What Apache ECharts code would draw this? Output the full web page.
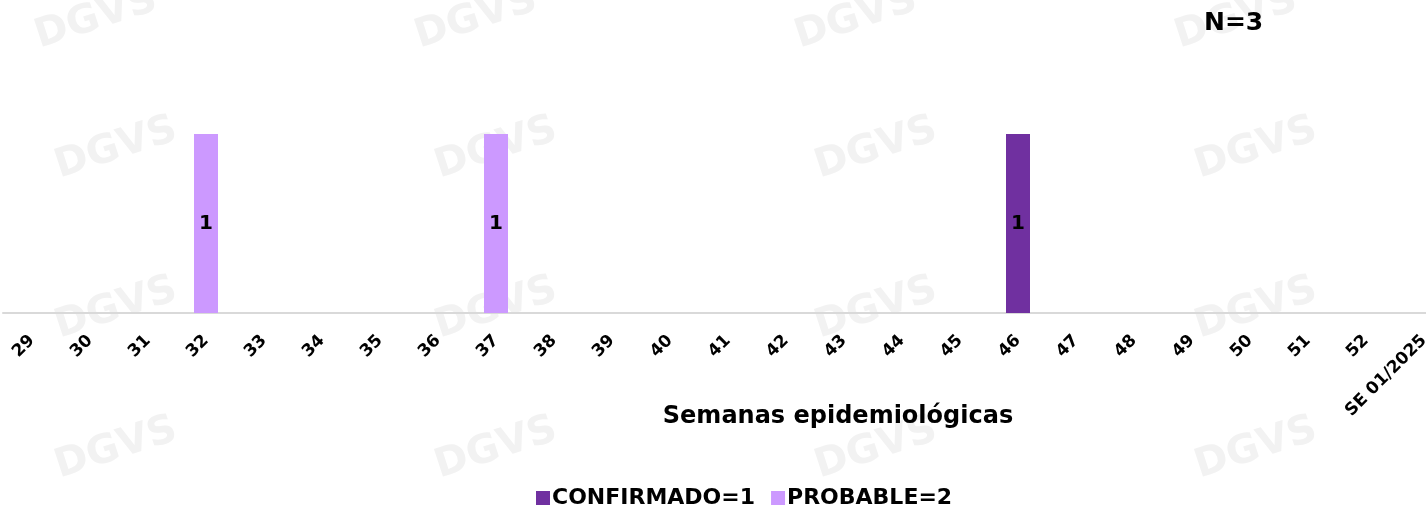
<!DOCTYPE html>
<html>
<head>
<meta charset="utf-8">
<script src="https://cdn.jsdelivr.net/npm/echarts@6/dist/echarts.min.js"></script>
<style>
  html, body { margin: 0; padding: 0; background: #fff; overflow: hidden; }
  #chart { width: 1456px; height: 512px; }
</style>
</head>
<body>
<div id="chart"></div>
<script>
const weeks = ['29', '30', '31', '32', '33', '34', '35', '36', '37', '38', '39', '40', '41', '42', '43', '44', '45', '46', '47', '48', '49', '50', '51', '52', 'SE 01/2025'];
const confirmado = [null, null, null, null, null, null, null, null, null, null, null, null, null, null, null, null, null, 1, null, null, null, null, null, null, null];
const probable = [null, null, null, 1, null, null, null, null, 1, null, null, null, null, null, null, null, null, null, null, null, null, null, null, null, null];
const total = 3;

const font = '"DejaVu Sans", sans-serif';

const sum = (arr) => arr.reduce((a, b) => a + (b || 0), 0);

// faint watermark, just decoration
const watermarks = [];
[[10, -20], [390, -20], [770, -20], [1150, -20],
 [30, 110], [410, 110], [790, 110], [1170, 110],
 [30, 270], [410, 270], [790, 270], [1170, 270],
 [30, 410], [410, 410], [790, 410], [1170, 410]].forEach(([x, y]) => {
  watermarks.push({
    type: 'text', left: x + 20, top: y, rotation: Math.PI / 10, z: -10,
    style: { text: 'DGVS', fill: '#f2f2f2', font: 'bold 40px ' + font }
  });
});

const chart = echarts.init(document.getElementById('chart'));

const labelOpt = {
  show: true,
  position: 'inside',
  color: '#000',
  fontFamily: font,
  fontWeight: 'bold',
  fontSize: 20,
};

chart.setOption({
  animation: false,
  backgroundColor: '#fff',
  graphic: watermarks.concat([{
    type: 'text', left: 1204, top: 11,
    style: { text: 'N=' + total, fill: '#000', font: 'bold 25px ' + font }
  }]),
  grid: { left: 3, top: 134, right: 3, bottom: 199, containLabel: false },
  legend: {
    bottom: -2,
    left: 531,
    itemWidth: 14,
    itemHeight: 14,
    itemGap: 16,
    icon: 'rect',
    textStyle: { color: '#000', fontFamily: font, fontWeight: 'bold', fontSize: 22, padding: [0, 0, 0, -3] },
    formatter: (name) => name === 'CONFIRMADO' ? 'CONFIRMADO=' + sum(confirmado) : 'PROBABLE=' + sum(probable),
    data: ['CONFIRMADO', 'PROBABLE'],
  },
  xAxis: {
    type: 'category',
    data: weeks,
    name: 'Semanas epidemiológicas',
    nameLocation: 'middle',
    nameGap: 92,
    nameMoveOverlap: false,
    nameTextStyle: { color: '#000', fontFamily: font, fontWeight: 'bold', fontSize: 24, padding: [0, 0, 0, 220] },
    axisLine: { lineStyle: { color: '#d9d9d9', width: 2 } },
    axisTick: { show: false },
    axisLabel: {
      rotate: 45,
      interval: 0,
      margin: 25,
      color: '#000',
      fontFamily: font,
      fontWeight: 'bold',
      fontSize: 17,
    },
  },
  yAxis: {
    type: 'value',
    min: 0,
    max: 1,
    show: false,
  },
  series: [
    {
      name: 'CONFIRMADO',
      type: 'bar',
      stack: 'casos',
      data: confirmado,
      barWidth: 24,
      itemStyle: { color: '#7030a0' },
      label: labelOpt,
    },
    {
      name: 'PROBABLE',
      type: 'bar',
      stack: 'casos',
      data: probable,
      barWidth: 24,
      itemStyle: { color: '#cc99ff' },
      label: labelOpt,
    },
  ],
});
</script>
</body>
</html>
